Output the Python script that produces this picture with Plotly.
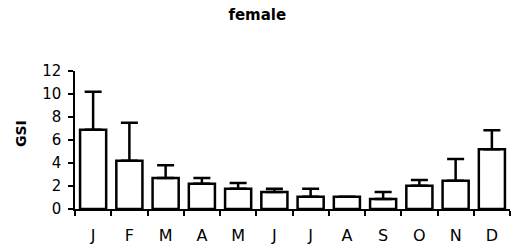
import plotly.graph_objects as go

months = ["J", "F", "M", "A", "M", "J", "J", "A", "S", "O", "N", "D"]
gsi_mean = [6.9, 4.2, 2.7, 2.2, 1.76, 1.47, 1.07, 1.07, 0.87, 2.02, 2.45, 5.2]
gsi_err = [3.3, 3.3, 1.1, 0.5, 0.5, 0.3, 0.7, 0.0, 0.6, 0.5, 1.9, 1.65]
y_ticks = [0, 2, 4, 6, 8, 10, 12]

xpos = list(range(len(months)))

fig = go.Figure()
fig.add_trace(go.Bar(
    x=xpos, y=gsi_mean, width=0.72,
    marker=dict(color="white", line=dict(color="black", width=2.5)),
    error_y=dict(type="data", array=gsi_err, arrayminus=[0] * len(gsi_err),
                 symmetric=False, color="black", thickness=2.5, width=8.5),
))

font = "DejaVu Sans, Verdana, sans-serif"
fig.update_layout(
    width=523, height=249,
    margin=dict(l=75, r=13, t=71, b=40),
    plot_bgcolor="white", paper_bgcolor="white",
    showlegend=False,
    font=dict(family=font, color="black"),
    title=dict(text="<b>female</b>", x=0.492, xanchor="center", y=0.94, yanchor="middle",
               font=dict(size=15, family=font, color="black")),
    xaxis=dict(
        range=[-0.5, 11.5], tickmode="array", tickvals=xpos, ticktext=months,
        ticks="outside", ticklen=11, tickcolor="rgba(0,0,0,0)", automargin=False,
        showline=True, linecolor="black", linewidth=1.5, showgrid=False, zeroline=False,
        tickfont=dict(size=16, family=font, color="black"),
        minor=dict(tickmode="array", tickvals=[i - 0.5 for i in range(13)],
                   ticks="outside", ticklen=5, tickcolor="black", tickwidth=1.5, showgrid=False),
    ),
    yaxis=dict(
        range=[0, 12], tickmode="array", tickvals=y_ticks, automargin=False,
        ticks="outside", ticklen=5, tickcolor="black", tickwidth=1.5, ticklabelstandoff=4,
        showline=True, linecolor="black", linewidth=1.5, showgrid=False, zeroline=False,
        tickfont=dict(size=15, family=font, color="black"),
    ),
    annotations=[dict(
        text="<b>GSI</b>", textangle=-90, showarrow=False,
        xref="paper", yref="paper", x=(21.7 - 75) / 435, y=(209 - 133) / 138.5,
        xanchor="center", yanchor="middle",
        font=dict(size=14, family=font, color="black"),
    )],
)

fig.write_html("out.html")
